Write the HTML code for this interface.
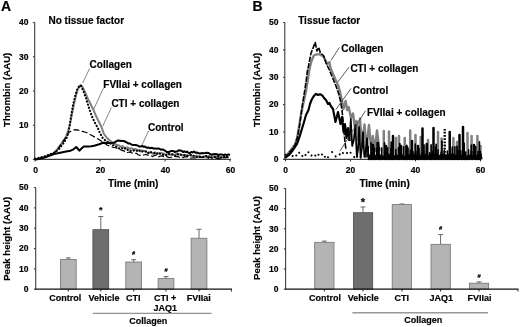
<!DOCTYPE html>
<html><head><meta charset="utf-8"><title>Figure</title>
<style>html,body{margin:0;padding:0;background:#fff;}svg{display:block;will-change:transform;opacity:0.999;}text{font-family:"Liberation Sans",sans-serif;font-weight:bold;fill:#000;stroke:#000;stroke-width:0.18px;}.t10{font-size:10px}.tv{font-size:9.65px}.t9{font-size:9px}.t8{font-size:8.5px}.ax{stroke:#3c3c3c;stroke-width:1.1;fill:none}.an{stroke:#333;stroke-width:0.8;fill:none}</style></head><body>
<svg width="520" height="327" viewBox="0 0 520 327">
<rect width="520" height="327" fill="#fff"/>
<text x="1" y="11" style="font-size:14px">A</text>
<text x="252.6" y="11" style="font-size:14px">B</text>
<path class="ax" d="M34.7,22.5 V159.4 H231"/>
<path class="ax" d="M32.900000000000006,159.4 H34.7"/>
<text class="t8" x="28.5" y="162.2" text-anchor="end">0</text>
<path class="ax" d="M32.900000000000006,125.2 H34.7"/>
<text class="t8" x="28.5" y="128.0" text-anchor="end">10</text>
<path class="ax" d="M32.900000000000006,91.0 H34.7"/>
<text class="t8" x="28.5" y="93.8" text-anchor="end">20</text>
<path class="ax" d="M32.900000000000006,56.7 H34.7"/>
<text class="t8" x="28.5" y="59.5" text-anchor="end">30</text>
<path class="ax" d="M32.900000000000006,22.5 H34.7"/>
<text class="t8" x="28.5" y="25.3" text-anchor="end">40</text>
<path class="ax" d="M35.0,159.4 v2"/>
<text class="t8" x="35.6" y="173" text-anchor="middle">0</text>
<path class="ax" d="M100.0,159.4 v2"/>
<text class="t8" x="100.6" y="173" text-anchor="middle">20</text>
<path class="ax" d="M165.0,159.4 v2"/>
<text class="t8" x="165.6" y="173" text-anchor="middle">40</text>
<path class="ax" d="M230.0,159.4 v2"/>
<text class="t8" x="230.6" y="173" text-anchor="middle">60</text>
<text class="t10" x="108" y="186.5">Time (min)</text>
<text class="tv" transform="translate(10.3,127) rotate(-90)">Thrombin (AAU)</text>
<text class="t10" x="48.5" y="23.6">No tissue factor</text>
<path d="M35.0,159.3 L37.5,159.0 L45.0,157.0 L53.5,153.5 L57.7,148.9 L62.3,142.4 L66.0,136.8 L68.0,131.0 L69.5,126.0 L70.8,120.0 L72.2,113.0 L74.0,104.0 L76.0,95.4 L78.0,89.0 L80.5,85.0 L82.0,86.0 L85.0,92.0 L88.0,99.0 L91.0,105.0 L93.8,110.8 L97.0,118.0 L101.5,127.0 L104.0,134.0 L107.0,138.0 L110.4,141.0 L114.0,143.5 L117.0,145.0 L118.8,145.2 L120.6,146.8 L122.4,146.1 L124.2,147.6 L126.0,147.8 L127.8,147.5 L129.6,148.8 L131.4,148.2 L133.2,149.4 L135.0,149.0 L136.8,149.4 L138.6,150.4 L140.4,151.5 L142.2,150.4 L144.0,150.9 L145.8,152.0 L147.6,153.0 L149.4,152.5 L151.2,152.4 L153.0,153.9 L154.8,152.3 L156.6,154.2 L158.4,153.2 L160.2,153.1 L162.0,153.1 L163.8,153.6 L165.6,154.8 L167.4,153.6 L169.2,154.6 L171.0,154.8 L172.8,154.4 L174.6,154.8 L176.4,154.0 L178.2,154.1 L180.0,154.5 L181.8,155.5 L183.6,155.2 L185.4,155.0 L187.2,155.7 L189.0,155.5 L190.8,155.3 L192.6,156.4 L194.4,156.4 L196.2,155.6 L198.0,156.3 L199.8,156.3 L201.6,157.1 L203.4,156.9 L205.2,156.1 L207.0,157.5 L208.8,155.9 L210.6,156.6 L212.4,157.3 L214.2,156.2 L216.0,156.9 L217.8,156.1 L219.6,157.4 L221.4,157.7 L223.2,157.4 L225.0,158.1 L226.8,157.0 L228.6,157.8" fill="none" stroke="#808080" stroke-width="2" stroke-linejoin="round"/>
<path d="M35.0,159.3 L37.5,159.0 L45.0,157.2 L53.5,153.8 L57.7,149.2 L62.3,142.7 L66.0,137.0 L68.5,132.8 L72.0,130.5 L75.4,129.6 L80.0,130.5 L87.0,132.7 L92.0,135.5 L97.7,138.8 L102.7,142.0 L107.0,145.0 L110.4,146.3 L113.0,147.3 L114.8,147.5 L116.6,148.1 L118.4,149.1 L120.2,149.6 L122.0,150.6 L123.8,150.6 L125.6,152.6 L127.4,152.5 L129.2,152.0 L131.0,152.6 L132.8,153.1 L134.6,153.4 L136.4,153.3 L138.2,154.8 L140.0,155.4 L141.8,154.7 L143.6,155.0 L145.4,154.5 L147.2,154.8 L149.0,155.5 L150.8,155.5 L152.6,156.6 L154.4,155.4 L156.2,155.3 L158.0,157.0 L159.8,156.4 L161.6,155.8 L163.4,156.6 L165.2,155.7 L167.0,156.6 L168.8,157.5 L170.6,157.4 L172.4,157.1 L174.2,156.4 L176.0,156.6 L177.8,156.3 L179.6,157.5 L181.4,157.1 L183.2,157.6 L185.0,156.8 L186.8,156.7 L188.6,157.8 L190.4,158.2 L192.2,158.0 L194.0,157.9 L195.8,158.0 L197.6,157.9 L199.4,157.0 L201.2,157.5 L203.0,157.3 L204.8,156.7 L206.6,156.7 L208.4,157.2 L210.2,157.2 L212.0,158.0 L213.8,158.5 L215.6,157.7 L217.4,158.6 L219.2,158.7 L221.0,158.7 L222.8,157.6 L224.6,157.4 L226.4,157.4 L228.2,157.4" fill="none" stroke="#000" stroke-width="1.2" stroke-dasharray="6 2.5" stroke-linejoin="round"/>
<path d="M35.0,158.6 L37.5,158.2 L45.0,156.2 L54.0,152.8 L58.7,149.5 L63.5,143.2 L67.0,137.3 L68.6,131.5 L69.6,126.0 L70.5,120.0 L71.6,113.0 L73.3,104.0 L75.3,95.4 L77.3,89.0 L79.8,85.3 L81.0,86.0 L83.0,90.0 L86.0,98.0 L89.0,108.0 L91.5,115.4 L94.5,122.0 L97.7,127.7 L100.0,133.0 L102.7,138.0 L106.0,141.0 L110.4,143.5 L113.0,145.2 L114.8,146.0 L116.6,146.6 L118.4,148.1 L120.2,148.8 L122.0,148.2 L123.8,149.1 L125.6,148.1 L127.4,149.8 L129.2,150.0 L131.0,151.1 L132.8,151.0 L134.6,150.1 L136.4,150.6 L138.2,151.5 L140.0,150.3 L141.8,151.6 L143.6,151.2 L145.4,151.3 L147.2,151.5 L149.0,153.3 L150.8,152.1 L152.6,152.5 L154.4,153.0 L156.2,154.2 L158.0,152.7 L159.8,153.7 L161.6,154.1 L163.4,155.0 L165.2,155.0 L167.0,155.2 L168.8,154.0 L170.6,154.4 L172.4,154.4 L174.2,155.7 L176.0,156.0 L177.8,154.3 L179.6,154.5 L181.4,154.7 L183.2,154.8 L185.0,155.5 L186.8,155.9 L188.6,155.2 L190.4,154.8 L192.2,155.8 L194.0,155.8 L195.8,156.4 L197.6,157.3 L199.4,156.9 L201.2,156.6 L203.0,156.9 L204.8,157.0 L206.6,155.7 L208.4,157.7 L210.2,157.5 L212.0,157.7 L213.8,157.6 L215.6,156.8 L217.4,156.9 L219.2,156.3 L221.0,157.5 L222.8,156.3 L224.6,156.4 L226.4,156.7 L228.2,156.7" fill="none" stroke="#000" stroke-width="2.1" stroke-dasharray="0.3 3" stroke-linecap="round" stroke-linejoin="round"/>
<path d="M35.0,159.5 L37.5,159.3 L45.0,157.4 L54.0,154.0 L61.4,152.5 L66.0,151.5 L70.6,150.7 L73.5,149.3 L76.2,147.0 L78.0,149.0 L79.5,150.7 L81.5,148.5 L83.8,146.5 L88.0,146.5 L91.5,146.2 L95.0,145.5 L99.2,144.2 L103.0,142.7 L108.8,143.0 L114.0,142.7 L118.0,140.4 L122.0,141.0 L123.9,141.0 L125.8,142.0 L127.2,142.7 L128.6,143.6 L130.0,143.5 L131.8,144.8 L133.5,145.0 L135.2,145.1 L137.0,145.3 L138.3,145.9 L139.7,146.6 L141.0,146.5 L142.3,145.9 L143.7,146.8 L145.0,146.6 L146.9,147.8 L148.8,147.6 L150.4,148.2 L152.0,147.8 L153.5,148.5 L155.0,148.4 L156.5,148.8 L158.2,148.4 L160.0,149.0 L161.3,149.8 L162.7,149.4 L164.0,150.0 L165.6,151.1 L167.2,152.1 L168.8,152.0 L170.4,151.3 L172.0,151.0 L173.3,151.0 L174.7,152.0 L176.0,151.5 L177.3,151.5 L178.7,150.3 L180.0,150.5 L181.5,150.7 L183.0,152.0 L184.3,151.3 L185.7,152.3 L187.0,151.5 L188.5,152.7 L190.0,153.0 L191.3,151.9 L192.7,152.5 L194.0,151.5 L195.5,152.8 L197.0,152.5 L198.5,153.3 L200.0,153.5 L201.7,153.1 L203.3,153.2 L205.0,153.0 L206.7,152.7 L208.3,152.9 L210.0,154.0 L211.7,154.8 L213.3,154.2 L215.0,154.0 L216.7,154.2 L218.3,155.0 L220.0,154.5 L221.7,154.4 L223.3,155.1 L225.0,154.5 L226.7,155.2 L228.3,154.4 L230.0,155.0" fill="none" stroke="#000" stroke-width="2" stroke-linejoin="round"/>
<text class="t10" x="89.6" y="68">Collagen</text>
<path class="an" style="stroke:#555;stroke-width:0.7" d="M89.6,68.5 L82.7,83"/>
<text class="t10" x="103.3" y="87.8">FVIIai + collagen</text>
<path class="an" style="stroke:#555;stroke-width:0.7" d="M103.5,88 L93.8,109"/>
<text class="t10" x="111.4" y="107.2">CTI + collagen</text>
<path class="an" style="stroke:#555;stroke-width:0.7" d="M111.4,107.5 L102.8,126"/>
<text class="t10" x="148" y="131.1">Control</text>
<path class="an" style="stroke:#555;stroke-width:0.7" d="M148.5,131 L142,145"/>
<path class="ax" d="M284.8,22.5 V159.4 H481"/>
<path class="ax" d="M283.0,159.4 H284.8"/>
<text class="t8" x="278.5" y="162.2" text-anchor="end">0</text>
<path class="ax" d="M283.0,132.0 H284.8"/>
<text class="t8" x="278.5" y="134.8" text-anchor="end">10</text>
<path class="ax" d="M283.0,104.6 H284.8"/>
<text class="t8" x="278.5" y="107.4" text-anchor="end">20</text>
<path class="ax" d="M283.0,77.3 H284.8"/>
<text class="t8" x="278.5" y="80.1" text-anchor="end">30</text>
<path class="ax" d="M283.0,49.9 H284.8"/>
<text class="t8" x="278.5" y="52.7" text-anchor="end">40</text>
<path class="ax" d="M283.0,22.5 H284.8"/>
<text class="t8" x="278.5" y="25.3" text-anchor="end">50</text>
<path class="ax" d="M285.5,159.4 v2"/>
<text class="t8" x="285.5" y="173" text-anchor="middle">0</text>
<path class="ax" d="M350.5,159.4 v2"/>
<text class="t8" x="350.5" y="173" text-anchor="middle">20</text>
<path class="ax" d="M415.5,159.4 v2"/>
<text class="t8" x="415.5" y="173" text-anchor="middle">40</text>
<path class="ax" d="M480.5,159.4 v2"/>
<text class="t8" x="480.5" y="173" text-anchor="middle">60</text>
<text class="t10" x="359.4" y="186.5">Time (min)</text>
<text class="tv" transform="translate(260.3,127) rotate(-90)">Thrombin (AAU)</text>
<text class="t10" x="298.2" y="23.6">Tissue factor</text>
<path d="M285.0,157.0 L288.0,153.5 L292.0,148.5 L295.0,144.6 L297.3,137.0 L299.2,126.0 L300.9,115.0 L303.2,104.0 L305.8,92.0 L307.8,80.0 L309.3,70.0 L310.2,66.0 L311.6,60.8 L313.8,55.5 L316.5,54.4 L319.8,54.4 L323.5,56.5 L327.3,64.0 L329.4,62.0 L330.6,68.4 L333.0,74.0 L335.2,79.0 L338.2,85.4 L340.0,92.0 L342.0,100.8 L343.5,109.0 L345.6,101.0 L347.2,110.0 L348.7,107.0 L351.0,118.0 L353.0,113.5 L355.0,128.0 L356.6,121.0 L358.3,140.0 L360.0,118.5 L362.0,146.0 L364.5,124.5 L366.5,148.0 L369.0,125.0 L371.2,150.0 L372.8,136.0 L374.8,151.0 L377.0,130.5 L379.5,151.0" fill="none" stroke="#808080" stroke-width="2.4" stroke-linejoin="round"/>
<path d="M383.8,156 V131.0M389.0,156 V131.5M396.0,156 V138.0M399.0,156 V136.0M404.7,156 V138.0M410.2,156 V130.5M415.5,156 V135.0M420.7,156 V137.0M428.0,156 V140.0M438.0,156 V132.0M441.6,156 V138.5M453.4,156 V138.0M457.0,156 V142.0M467.5,156 V133.0M471.6,156 V136.0M477.4,156 V136.0M480.5,156 V146.0" fill="none" stroke="#808080" stroke-width="2.5" stroke-linecap="round"/>
<path d="M285.0,157.5 L288.0,154.5 L292.0,149.5 L295.0,145.5 L297.5,137.0 L299.5,126.0 L301.0,115.0 L302.5,104.0 L304.5,92.0 L306.3,80.0 L307.5,70.0 L308.5,66.0 L311.0,53.3 L315.2,42.5 L317.0,51.0 L318.7,47.4 L320.3,52.8 L323.5,55.5 L326.0,63.0 L329.4,70.0 L331.0,74.0 L333.5,80.0 L336.0,86.0 L338.5,93.0 L340.5,101.0 L342.0,110.0 L343.0,120.0 L344.0,132.0 L345.0,142.0 L346.0,150.0" fill="none" stroke="#000" stroke-width="1.6" stroke-dasharray="5.5 1.2" stroke-linejoin="round"/>
<path d="M285.0,158.0 L289.0,155.0 L293.0,150.0 L297.0,144.0 L299.5,137.0 L301.5,130.4 L304.0,122.0 L306.0,115.0 L308.5,110.0 L310.0,104.0 L311.5,100.0 L313.5,96.5 L316.0,93.8 L318.0,95.0 L320.0,94.2 L322.3,95.4 L324.0,98.0 L326.0,100.0 L328.0,104.0 L329.5,103.0 L330.8,106.0 L333.0,109.0 L335.5,122.0 L338.0,112.0 L340.5,124.0 L342.0,117.0 L343.5,132.0 L345.0,124.0 L346.5,138.0 L348.0,128.0 L349.5,141.0" fill="none" stroke="#000" stroke-width="2.15" stroke-linejoin="round"/>
<path d="M349.5,141.0 L350.8,119.0 L352.2,146.0 L353.8,140.0 L355.4,125.0 L356.8,157.0 L358.0,150.0 L359.2,127.0 L360.6,158.0 L362.0,148.0 L363.0,132.0 L364.4,157.0 L366.0,150.0 L367.0,138.0 L368.4,157.0" fill="none" stroke="#000" stroke-width="1.7" stroke-linejoin="round"/>
<path d="M373.0,156 V145.0M378.0,156 V143.0M386.0,156 V146.0M393.0,156 V136.0M401.0,156 V146.0M407.0,156 V147.0M412.0,156 V141.0M418.0,156 V146.0M422.5,156 V128.5M426.8,156 V144.0M433.5,156 V128.0M449.7,156 V132.0M459.5,156 V135.0M463.0,156 V127.0M474.0,156 V145.0" fill="none" stroke="#000" stroke-width="2.5" stroke-linecap="round"/>
<path d="M371.0,156 V142.9M377.2,156 V142.8M384.5,156 V142.9M391.2,156 V142.0M399.8,156 V143.7M406.7,156 V145.4M415.3,156 V144.2M424.0,156 V144.8M431.1,156 V144.9M436.2,156 V144.3M441.9,156 V141.0M450.1,156 V142.3M457.0,156 V146.4M464.2,156 V143.4M471.3,156 V145.2M479.4,156 V141.8" fill="none" stroke="#000" stroke-width="1.7" stroke-linecap="round"/>
<path d="M444.7,156 V129" fill="none" stroke="#000" stroke-width="2.4" stroke-dasharray="1.8 1.4"/>
<path d="M368.0,154.6 L368.8,159.4 L369.6,155.9 L370.4,159.4 L371.3,155.4 L372.1,159.4 L373.1,156.3 L373.9,159.4 L374.8,155.5 L375.6,159.4 L376.5,155.3 L377.3,159.4 L378.3,155.1 L379.1,159.4 L380.0,155.2 L380.8,159.4 L382.0,155.7 L382.8,159.4 L383.9,156.4 L384.7,159.4 L385.5,155.4 L386.3,159.4 L387.4,156.1 L388.2,159.4 L388.9,154.3 L389.7,159.4 L390.6,154.2 L391.4,159.4 L392.1,154.2 L392.9,159.4 L393.9,156.0 L394.7,159.4 L395.9,154.4 L396.7,159.4 L397.7,155.7 L398.5,159.4 L399.2,156.2 L400.0,159.4 L401.2,154.5 L402.0,159.4 L403.1,155.0 L403.9,159.4 L404.8,156.5 L405.6,159.4 L406.7,154.4 L407.5,159.4 L408.4,155.3 L409.2,159.4 L410.0,154.5 L410.8,159.4 L411.6,155.8 L412.4,159.4 L413.0,155.4 L413.8,159.4 L414.7,154.0 L415.5,159.4 L416.3,155.6 L417.1,159.4 L418.0,154.2 L418.8,159.4 L420.0,156.0 L420.8,159.4 L421.9,154.3 L422.7,159.4 L423.5,154.1 L424.3,159.4 L425.4,154.7 L426.2,159.4 L426.8,155.1 L427.6,159.4 L428.8,156.0 L429.6,159.4 L430.4,154.4 L431.2,159.4 L432.3,155.4 L433.1,159.4 L434.1,154.2 L434.9,159.4 L435.6,155.7 L436.4,159.4 L437.2,154.2 L438.0,159.4 L439.2,155.6 L440.0,159.4 L441.1,154.2 L441.9,159.4 L443.0,154.2 L443.8,159.4 L444.9,155.1 L445.7,159.4 L446.5,155.4 L447.3,159.4 L448.4,154.7 L449.2,159.4 L449.9,155.3 L450.7,159.4 L451.5,154.3 L452.3,159.4 L453.0,154.1 L453.8,159.4 L454.5,154.8 L455.3,159.4 L456.1,155.9 L456.9,159.4 L457.6,155.3 L458.4,159.4 L459.2,154.9 L460.0,159.4 L460.6,154.6 L461.4,159.4 L462.0,155.8 L462.8,159.4 L463.7,154.5 L464.5,159.4 L465.4,156.3 L466.2,159.4 L466.8,156.0 L467.6,159.4 L468.5,155.2 L469.3,159.4 L470.4,155.0 L471.2,159.4 L472.1,155.7 L472.9,159.4 L474.1,154.9 L474.9,159.4 L476.0,155.8 L476.8,159.4 L477.8,155.0 L478.6,159.4 L479.4,154.1 L480.2,159.4 L480.9,154.2 L481.7,159.4" fill="none" stroke="#000" stroke-width="1.7" stroke-linejoin="round"/>
<path d="M366.0,157 V147.9M368.2,157 V146.6M371.3,157 V152.5M374.2,157 V148.1M376.5,157 V148.2M379.1,157 V147.2M381.7,157 V148.0M384.9,157 V153.3M387.6,157 V147.8M390.9,157 V148.3M393.3,157 V146.0M395.8,157 V149.6M398.5,157 V147.5M401.2,157 V146.0M403.5,157 V146.7M406.0,157 V146.3M408.0,157 V148.3M410.4,157 V150.4M413.0,157 V151.6M415.9,157 V151.4M419.0,157 V148.9M421.5,157 V153.4M423.7,157 V151.4M426.5,157 V146.3M429.6,157 V152.7M432.4,157 V151.5M435.4,157 V147.0M438.1,157 V149.8M441.2,157 V152.0M444.3,157 V150.4M447.4,157 V151.1M450.4,157 V147.7M452.4,157 V147.0M454.9,157 V146.8M457.9,157 V150.2M460.8,157 V150.7M463.6,157 V149.7M465.7,157 V152.0M468.6,157 V149.8M471.3,157 V150.9M473.4,157 V151.5M475.7,157 V146.6M478.1,157 V151.5M480.3,157 V151.5" fill="none" stroke="#000" stroke-width="1.6" stroke-linecap="round"/>
<g fill="#000"><circle cx="285.5" cy="154.7" r="1.05"/><circle cx="288.8" cy="154.6" r="1.05"/><circle cx="292.6" cy="156.1" r="1.05"/><circle cx="296.3" cy="155.5" r="1.05"/><circle cx="299.2" cy="152.8" r="1.05"/><circle cx="302.3" cy="156.0" r="1.05"/><circle cx="305.5" cy="155.1" r="1.05"/><circle cx="308.4" cy="152.3" r="1.05"/><circle cx="311.5" cy="155.6" r="1.05"/><circle cx="315.3" cy="155.6" r="1.05"/><circle cx="318.5" cy="154.8" r="1.05"/><circle cx="322.0" cy="154.5" r="1.05"/><circle cx="324.9" cy="156.8" r="1.05"/><circle cx="328.0" cy="157.3" r="1.05"/><circle cx="332.1" cy="152.1" r="1.05"/><circle cx="335.6" cy="156.4" r="1.05"/><circle cx="339.7" cy="154.4" r="1.05"/><circle cx="342.9" cy="153.1" r="1.05"/><circle cx="347.0" cy="153.1" r="1.05"/><circle cx="350.6" cy="152.8" r="1.05"/><circle cx="354.2" cy="157.1" r="1.05"/><circle cx="357.2" cy="156.4" r="1.05"/><circle cx="360.7" cy="156.8" r="1.05"/><circle cx="364.5" cy="153.2" r="1.05"/><circle cx="368.5" cy="154.6" r="1.05"/></g>
<text class="t10" x="341.2" y="51.8">Collagen</text>
<path class="an" d="M339.5,47.3 L331,60.3"/>
<text class="t10" x="350.4" y="72">CTI + collagen</text>
<path class="an" d="M349,67.2 L337.8,82"/>
<text class="t10" x="352.7" y="94">Control</text>
<path class="an" d="M351,88.5 L335.8,109.6"/>
<text class="t10" x="367" y="115.8">FVIIai + collagen</text>
<path class="an" d="M365.6,110.6 L340,151"/>
<path class="ax" d="M35.7,187.6 V289.2"/>
<path class="ax" d="M33.900000000000006,289.2 H35.7"/>
<text class="t8" x="28.5" y="292.0" text-anchor="end">0</text>
<path class="ax" d="M33.900000000000006,268.9 H35.7"/>
<text class="t8" x="28.5" y="271.7" text-anchor="end">10</text>
<path class="ax" d="M33.900000000000006,248.6 H35.7"/>
<text class="t8" x="28.5" y="251.4" text-anchor="end">20</text>
<path class="ax" d="M33.900000000000006,228.2 H35.7"/>
<text class="t8" x="28.5" y="231.0" text-anchor="end">30</text>
<path class="ax" d="M33.900000000000006,207.9 H35.7"/>
<text class="t8" x="28.5" y="210.7" text-anchor="end">40</text>
<path class="ax" d="M33.900000000000006,187.6 H35.7"/>
<text class="t8" x="28.5" y="190.4" text-anchor="end">50</text>
<path d="M68.3,259.5 V257.9 M65.8,257.9 H70.8" stroke="#444" stroke-width="0.8" fill="none"/>
<rect x="60.4" y="259.5" width="15.8" height="29.7" fill="#b4b4b4" stroke="#727272" stroke-width="0.8"/>
<path class="ax" d="M68.3,289.2 v2.4"/>
<path d="M100.8,229.7 V216.5 M98.3,216.5 H103.3" stroke="#444" stroke-width="0.8" fill="none"/>
<rect x="92.9" y="229.7" width="15.8" height="59.5" fill="#6e6e6e" stroke="#4a4a4a" stroke-width="0.8"/>
<text x="100.8" y="213.2" text-anchor="middle" style="font-size:9px">*</text>
<path class="ax" d="M100.8,289.2 v2.4"/>
<path d="M133.7,262.0 V259.7 M131.2,259.7 H136.2" stroke="#444" stroke-width="0.8" fill="none"/>
<rect x="125.8" y="262.0" width="15.8" height="27.2" fill="#b4b4b4" stroke="#727272" stroke-width="0.8"/>
<text x="133.7" y="255.3" text-anchor="middle" style="font-size:5.8px">#</text>
<path class="ax" d="M133.7,289.2 v2.4"/>
<path d="M166,278.6 V276.6 M163.5,276.6 H168.5" stroke="#444" stroke-width="0.8" fill="none"/>
<rect x="158.1" y="278.6" width="15.8" height="10.6" fill="#b4b4b4" stroke="#727272" stroke-width="0.8"/>
<text x="166" y="271.5" text-anchor="middle" style="font-size:5.8px">#</text>
<path class="ax" d="M166,289.2 v2.4"/>
<path d="M199,238.2 V229.3 M196.5,229.3 H201.5" stroke="#444" stroke-width="0.8" fill="none"/>
<rect x="191.1" y="238.2" width="15.8" height="51.0" fill="#b4b4b4" stroke="#727272" stroke-width="0.8"/>
<path class="ax" d="M199,289.2 v2.4"/>
<path class="ax" d="M231.5,289.2 v2.4"/>
<path d="M35.2,289.2 H232" stroke="#111" stroke-width="1.3" fill="none"/>
<text class="t9" x="65.2" y="300.5" text-anchor="middle">Control</text>
<text class="t9" x="104" y="301" text-anchor="middle">Vehicle</text>
<text class="t9" x="133.2" y="300.5" text-anchor="middle">CTI</text>
<text class="t9" x="165.2" y="301" text-anchor="middle">CTI +</text>
<text class="t9" x="165.2" y="311" text-anchor="middle">JAQ1</text>
<text class="t9" x="198.7" y="301" text-anchor="middle">FVIIai</text>
<path d="M92.8,313.3 H211.6" stroke="#555" stroke-width="0.8"/>
<text class="t9" x="148.2" y="323.5" text-anchor="middle">Collagen</text>
<text class="tv" transform="translate(10.3,280.8) rotate(-90)">Peak height (AAU)</text>
<path class="ax" d="M285.6,188.5 V289.2"/>
<path class="ax" d="M283.8,289.2 H285.6"/>
<text class="t8" x="278.5" y="292.0" text-anchor="end">0</text>
<path class="ax" d="M283.8,269.1 H285.6"/>
<text class="t8" x="278.5" y="271.9" text-anchor="end">10</text>
<path class="ax" d="M283.8,248.9 H285.6"/>
<text class="t8" x="278.5" y="251.7" text-anchor="end">20</text>
<path class="ax" d="M283.8,228.8 H285.6"/>
<text class="t8" x="278.5" y="231.6" text-anchor="end">30</text>
<path class="ax" d="M283.8,208.6 H285.6"/>
<text class="t8" x="278.5" y="211.4" text-anchor="end">40</text>
<path class="ax" d="M283.8,188.5 H285.6"/>
<text class="t8" x="278.5" y="191.3" text-anchor="end">50</text>
<path d="M324.3,242.3 V241.1 M321.8,241.1 H326.8" stroke="#444" stroke-width="0.8" fill="none"/>
<rect x="314.7" y="242.3" width="19.3" height="46.9" fill="#b4b4b4" stroke="#727272" stroke-width="0.8"/>
<path class="ax" d="M324.3,289.2 v2.4"/>
<path d="M363,212.7 V207.0 M360.5,207.0 H365.5" stroke="#444" stroke-width="0.8" fill="none"/>
<rect x="353.4" y="212.7" width="19.3" height="76.5" fill="#6e6e6e" stroke="#4a4a4a" stroke-width="0.8"/>
<text x="363" y="205.6" text-anchor="middle" style="font-size:11px">*</text>
<path class="ax" d="M363,289.2 v2.4"/>
<path d="M401.9,204.6 V204.0 M399.4,204.0 H404.4" stroke="#444" stroke-width="0.8" fill="none"/>
<rect x="392.2" y="204.6" width="19.3" height="84.6" fill="#b4b4b4" stroke="#727272" stroke-width="0.8"/>
<path class="ax" d="M401.9,289.2 v2.4"/>
<path d="M440.6,244.3 V234.6 M438.1,234.6 H443.1" stroke="#444" stroke-width="0.8" fill="none"/>
<rect x="431.0" y="244.3" width="19.3" height="44.9" fill="#b4b4b4" stroke="#727272" stroke-width="0.8"/>
<text x="440.6" y="229.7" text-anchor="middle" style="font-size:5.8px">#</text>
<path class="ax" d="M440.6,289.2 v2.4"/>
<path d="M479,283.2 V281.9 M476.5,281.9 H481.5" stroke="#444" stroke-width="0.8" fill="none"/>
<rect x="469.4" y="283.2" width="19.3" height="6.0" fill="#b4b4b4" stroke="#727272" stroke-width="0.8"/>
<text x="479" y="277.6" text-anchor="middle" style="font-size:5.8px">#</text>
<path class="ax" d="M479,289.2 v2.4"/>
<path class="ax" d="M517.9,289.2 v2.4"/>
<path d="M285.1,289.2 H518.4" stroke="#111" stroke-width="1.3" fill="none"/>
<text class="t9" x="325" y="300.5" text-anchor="middle">Control</text>
<text class="t9" x="363.2" y="300.5" text-anchor="middle">Vehicle</text>
<text class="t9" x="401.7" y="300.5" text-anchor="middle">CTI</text>
<text class="t9" x="441.2" y="300.5" text-anchor="middle">JAQ1</text>
<text class="t9" x="479.4" y="300.5" text-anchor="middle">FVIIai</text>
<path d="M352.4,312.8 H488" stroke="#999" stroke-width="1.4"/>
<text class="t9" x="423.3" y="323" text-anchor="middle">Collagen</text>
<text class="tv" transform="translate(260.3,280) rotate(-90)">Peak height (AAU)</text>
</svg></body></html>
